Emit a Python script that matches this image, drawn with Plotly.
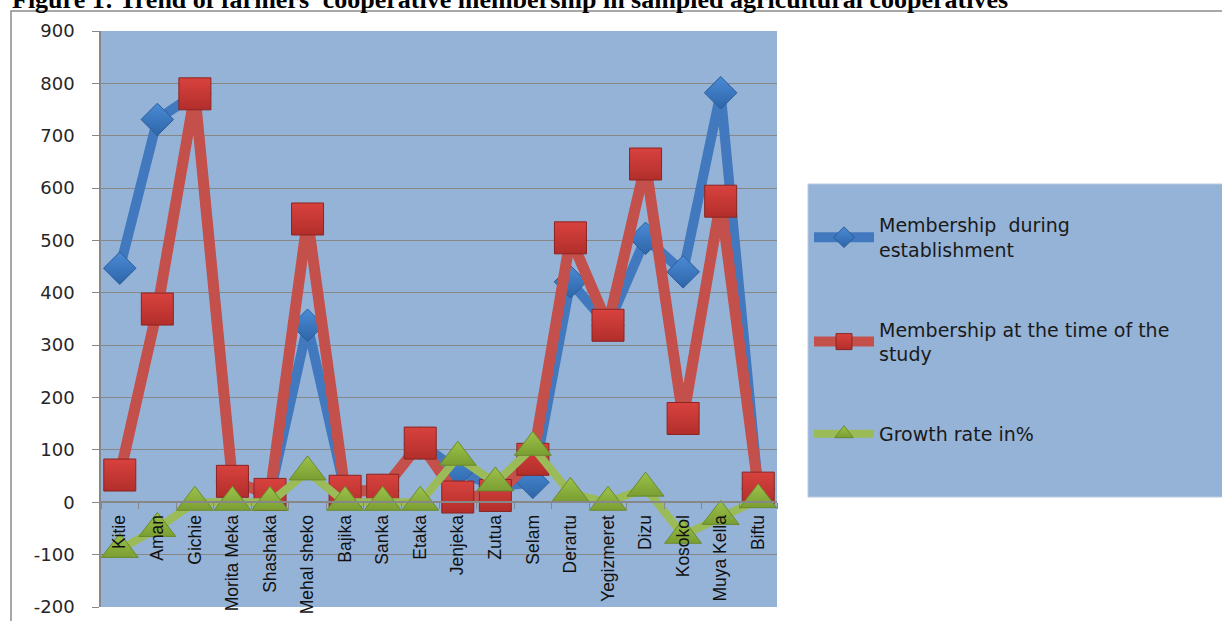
import plotly.graph_objects as go

categories = ["Kitie", "Aman", "Gichie", "Morita Meka", "Shashaka", "Mehal sheko",
              "Bajika", "Sanka", "Etaka", "Jenjeka", "Zutua", "Selam", "Derartu",
              "Yegizmeret", "Dizu", "Kosokol", "Muya Kella", "Biftu"]
membership_establishment = [447, 731, 780, 40, 15, 338, 21, 23, 113, 60, 30, 38,
                            421, 338, 504, 440, 782, 26]
membership_study = [52, 369, 780, 40, 15, 541, 21, 23, 113, 10, 13, 82,
                    505, 338, 646, 160, 575, 27]
growth_rate = [-90, -50, 0, 0, 0, 58, 0, 0, 0, 86, 37, 105, 17, 0, 27, -63, -27, 5]

series_names = ["Membership  during<br>establishment",
                "Membership at the time of the<br>study",
                "Growth rate in%"]
y_ticks = list(range(-200, 1000, 100))
y_tick_text = [str(v) for v in y_ticks]

W, H = 1222, 621
ML, MR, MT, MB = 101, 445, 31, 14
PW, PH = W - ML - MR, H - MT - MB


def px_x(p):
    return (p - ML) / PW


def px_y(p):
    return 1 - (p - MT) / PH


fig = go.Figure()

fig.add_trace(go.Scatter(
    x=categories, y=membership_establishment, name=series_names[0],
    mode="lines+markers", legendgroup="a",
    line=dict(color="#4279BE", width=10),
    marker=dict(symbol="diamond", size=25, color="#4A8BD6",
                line=dict(color="#2A5C99", width=1),
                gradient=dict(type="vertical", color="#2E65A8")),
))
fig.add_trace(go.Scatter(
    x=categories, y=membership_study, name=series_names[1],
    mode="lines+markers", legendgroup="b",
    line=dict(color="#C4504C", width=11),
    marker=dict(symbol="square", size=32, color="#D8423E",
                line=dict(color="#8A2522", width=1),
                gradient=dict(type="vertical", color="#B22E2B")),
))
fig.add_trace(go.Scatter(
    x=categories, y=growth_rate, name=series_names[2],
    mode="lines+markers", legendgroup="c",
    line=dict(color="#9BBB59", width=8),
    marker=dict(symbol="triangle-up", size=32, color="#9CC24A",
                line=dict(color="#6A8A2C", width=1),
                gradient=dict(type="vertical", color="#7A9E32")),
))

grid = "#878787"
fig.update_layout(
    width=W, height=H,
    margin=dict(l=ML, r=MR, t=MT, b=MB),
    paper_bgcolor="white",
    plot_bgcolor="#95B3D7",
    showlegend=True,
    legend=dict(
        x=px_x(809), y=px_y(206), xanchor="left", yanchor="top",
        bgcolor="rgba(0,0,0,0)", borderwidth=0,
        font=dict(family="DejaVu Sans", size=19, color="#1A1A1A"),
        tracegroupgap=52, itemwidth=60, traceorder="grouped",
    ),
    xaxis=dict(
        type="category", range=[-0.5, 17.5],
        anchor="free", position=200 / 1100, side="bottom",
        tickangle=-90, ticks="outside", ticklen=6, tickcolor=grid,
        tickson="boundaries", showgrid=False,
        showline=True, linecolor=grid, linewidth=1.5,
        tickfont=dict(family="Liberation Sans", size=17.5, color="#111111"),
        ticklabelstandoff=5,
        automargin=False, fixedrange=True,
    ),
    yaxis=dict(
        range=[-200, 900], tickvals=y_ticks, ticktext=y_tick_text,
        ticks="outside", ticklen=7,
        tickcolor=grid, showgrid=True, gridcolor=grid, gridwidth=1.3,
        zeroline=False, showline=True, linecolor=grid, linewidth=1.5,
        tickfont=dict(family="DejaVu Sans", size=18, color="#262626"),
        ticklabelstandoff=14, automargin=False, fixedrange=True,
    ),
    shapes=[
        dict(type="rect", xref="paper", yref="paper",
             x0=px_x(11), x1=px_x(1240), y0=px_y(640), y1=px_y(11),
             line=dict(color="#8C8C8C", width=1.5), fillcolor="rgba(0,0,0,0)",
             layer="below"),
        dict(type="rect", xref="paper", yref="paper",
             x0=px_x(808), x1=px_x(1240), y0=px_y(497), y1=px_y(184),
             line=dict(color="#B8CAE2", width=1), fillcolor="#95B3D7",
             layer="below"),
    ],
    annotations=[
        dict(text="<b>Figure 1: Trend of farmers' cooperative membership in sampled agricultural cooperatives</b>",
             xref="paper", yref="paper", x=px_x(10), y=px_y(16),
             xanchor="left", yanchor="bottom", showarrow=False,
             font=dict(family="Liberation Serif", size=26, color="black")),
    ],
)

fig.write_html("out.html", config={"displayModeBar": False},
               post_script="document.body.style.margin='0px';")
